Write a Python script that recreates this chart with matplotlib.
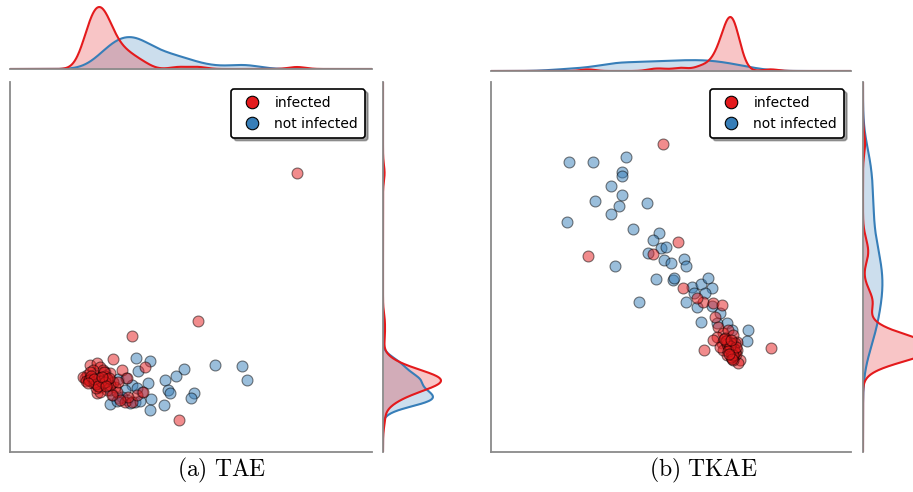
import numpy as np
import matplotlib
matplotlib.use("Agg")
import matplotlib.pyplot as plt
from matplotlib.lines import Line2D

plt.rcParams['mathtext.fontset'] = 'cm'

RED = '#e41a1c'
BLUE = '#377eb8'

# ---------------- data (latent embedding coordinates, arbitrary units) ----------------
tae_inf_x = [287, 188, 122, 103, 135, 169,
             75, 80, 87, 90, 78, 83, 90, 93, 100, 87, 97, 105, 112, 117, 107, 115, 122, 127, 133,
             77, 85, 92, 103, 97, 90, 118, 110, 83, 73, 82, 88, 95, 100, 86, 94, 80, 76, 108, 102,
             79, 84, 89, 93, 97, 81, 86, 91, 95, 99, 84, 88, 92, 78, 96]
tae_inf_y = [279, 131, 116, 93, 85, 32,
             74, 87, 89, 85, 72, 69, 65, 82, 79, 59, 62, 65, 82, 74, 60, 50, 50, 57, 60,
             77, 77, 72, 70, 67, 60, 55, 52, 82, 75, 74, 70, 76, 67, 64, 80, 80, 71, 70, 57,
             72, 70, 74, 69, 73, 76, 68, 71, 70, 74, 73, 66, 75, 69, 66]
tae_non_x = [126, 140, 128, 174, 166, 155, 205, 232, 237, 138, 158, 160, 184, 181, 141, 154, 140, 100,
             97, 108, 116, 122, 115, 103, 109, 117, 125, 132, 90, 95, 127, 100, 112, 120, 107, 130]
tae_non_y = [94, 91, 81, 83, 76, 72, 87, 86, 72, 69, 62, 59, 59, 54, 53, 47, 42, 48,
             74, 73, 74, 67, 62, 57, 54, 52, 50, 60, 69, 80, 64, 62, 55, 49, 51, 51]

tkae_inf_x = [172, 187, 162, 97, 192, 213, 280, 212, 206, 222, 231,
              224, 227, 232, 236, 241, 242, 241, 246, 249, 231, 226, 222, 237, 242, 246, 247, 236, 232, 229, 244,
              240, 243, 239, 245, 238, 242, 234, 240,
              238, 241, 236, 243, 240, 235, 244, 239, 242, 237, 245, 233, 241, 238, 240]
tkae_inf_y = [308, 210, 198, 196, 164, 102, 104, 150, 154, 149, 147,
              135, 125, 119, 112, 105, 99, 94, 102, 92, 109, 115, 112, 122, 117, 110, 89, 97, 102, 105, 109,
              100, 96, 103, 98, 107, 92, 114, 109,
              104, 99, 108, 103, 95, 111, 100, 106, 97, 101, 105, 113, 93, 98, 112]
tkae_non_x = [78, 102, 135, 131, 131, 120, 131, 104, 128, 120, 156, 76, 142, 168, 162, 170, 175, 157,
              173, 180, 193, 195, 124, 165, 182, 183, 201, 203, 210, 217, 221, 214, 148, 195, 206, 221,
              229, 226, 236, 241, 210, 257, 256, 242, 241]
tkae_non_y = [290, 290, 295, 280, 276, 266, 257, 251, 246, 238, 249, 230, 223, 219, 212, 204, 205, 199,
              192, 189, 193, 186, 186, 173, 172, 174, 165, 159, 168, 174, 164, 159, 150, 150, 145, 146,
              139, 129, 129, 122, 130, 122, 111, 109, 102]

labels = ['infected', 'not infected']
captions = [r'$\mathrm{(a)\ TAE}$', r'$\mathrm{(b)\ TKAE}$']

BW_ADJUST = {'red': 0.6, 'blue': 0.85}


def kde(vals, grid, adj):
    v = np.asarray(vals, float)
    bw = adj * v.std(ddof=1) * len(v) ** (-1 / 5)
    return np.exp(-0.5 * ((grid[:, None] - v[None, :]) / bw) ** 2).sum(1) / (len(v) * bw * np.sqrt(2 * np.pi))


W, H = 913, 492
fig = plt.figure(figsize=(W / 100, H / 100), dpi=100)


def fr(x0, y0, x1, y1):
    return [x0 / W, 1 - y1 / H, (x1 - x0) / W, (y1 - y0) / H]


panels = [
    dict(data=(tae_inf_x, tae_inf_y, tae_non_x, tae_non_y), main=(10, 82, 372, 452),
         top=(10, 0, 372, 69), right=(383, 82, 445, 452), xlim=(0, 362), ylim=(0, 370),
         topfrac=62 / 69, rightfrac=58 / 62, cap_x=222),
    dict(data=(tkae_inf_x, tkae_inf_y, tkae_non_x, tkae_non_y), main=(491, 82, 851, 452),
         top=(491, 0, 851, 71), right=(863, 82, 925, 452), xlim=(0, 360), ylim=(0, 370),
         topfrac=54 / 71, rightfrac=70 / 62, cap_x=703),
]

spine_col = '#8a8a8a'

for k, p in enumerate(panels):
    ix, iy, nx, ny = p['data']
    ax = fig.add_axes(fr(*p['main']))
    axt = fig.add_axes(fr(*p['top']))
    axr = fig.add_axes(fr(*p['right']))

    ax.scatter(nx, ny, s=62, color=BLUE, alpha=0.5, edgecolor='k', linewidth=0.8, zorder=2)
    ax.scatter(ix, iy, s=62, color=RED, alpha=0.5, edgecolor='k', linewidth=0.8, zorder=3)
    ax.set_xlim(*p['xlim'])
    ax.set_ylim(*p['ylim'])

    gx = np.linspace(p['xlim'][0], p['xlim'][1], 800)
    gy = np.linspace(p['ylim'][0], p['ylim'][1], 800)
    peaks_t, peaks_r = [], []
    for xs, ys, c, key in [(nx, ny, BLUE, 'blue'), (ix, iy, RED, 'red')]:
        dx = kde(xs, gx, BW_ADJUST[key])
        dy = kde(ys, gy, BW_ADJUST[key])
        axt.fill_between(gx, 0, dx, color=c, alpha=0.25, lw=0)
        axt.plot(gx, dx, color=c, lw=1.5)
        axr.fill_betweenx(gy, 0, dy, color=c, alpha=0.25, lw=0)
        axr.plot(dy, gy, color=c, lw=1.5)
        peaks_t.append(dx.max())
        peaks_r.append(dy.max())
    axt.set_xlim(*p['xlim'])
    axt.set_ylim(0, max(peaks_t) / p['topfrac'])
    axr.set_ylim(*p['ylim'])
    axr.set_xlim(0, max(peaks_r) / p['rightfrac'])

    for a, keep in [(ax, ('left', 'bottom')), (axt, ('bottom',)), (axr, ('left',))]:
        for s in ['left', 'right', 'top', 'bottom']:
            if s in keep:
                a.spines[s].set_color(spine_col)
                a.spines[s].set_linewidth(1.3)
            else:
                a.spines[s].set_visible(False)
        a.set_xticks([])
        a.set_yticks([])
        a.patch.set_alpha(0)

    handles = [Line2D([], [], marker='o', ls='', markersize=9, markerfacecolor=c,
                      markeredgecolor='k', markeredgewidth=0.8) for c in (RED, BLUE)]
    leg = ax.legend(handles, labels, loc='upper right', fontsize=10, frameon=True, shadow=True,
                    fancybox=True, borderaxespad=0.5, handletextpad=0.6, borderpad=0.5,
                    labelspacing=0.5)
    leg.get_frame().set_edgecolor('k')
    leg.get_frame().set_linewidth(1.2)
    leg.get_frame().set_alpha(1)

    fig.text(p['cap_x'] / W, 1 - 470 / H, captions[k], ha='center', va='center', fontsize=17)

fig.savefig('out.png', dpi=100)
